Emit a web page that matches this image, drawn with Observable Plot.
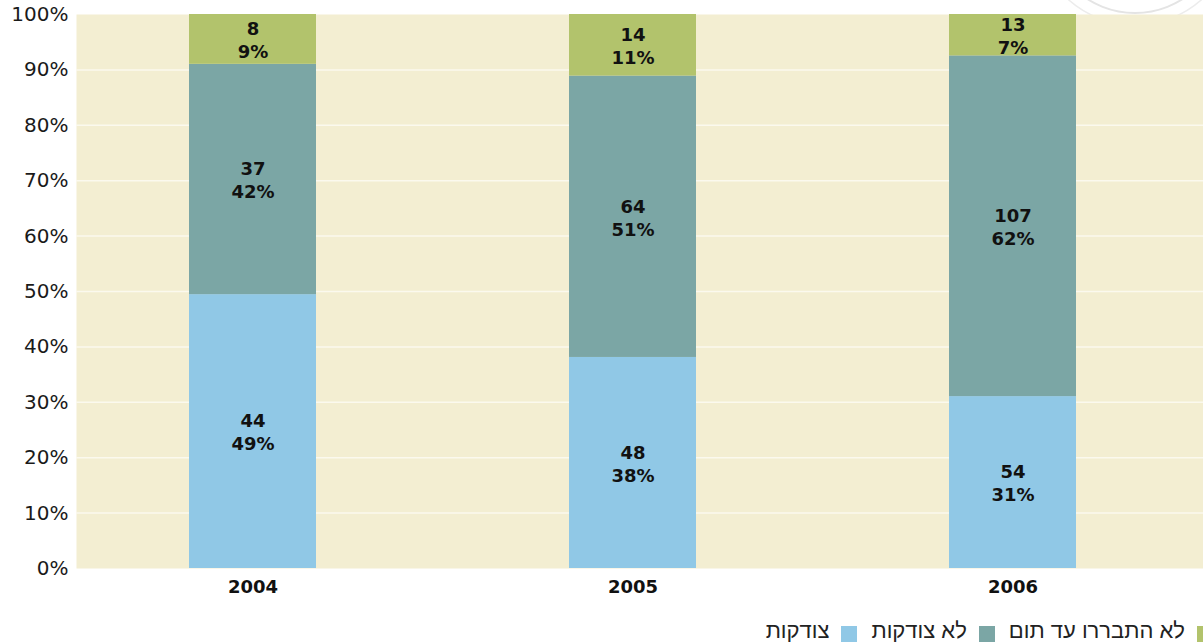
<!DOCTYPE html>
<html>
<head>
<meta charset="utf-8">
<script src="https://cdn.jsdelivr.net/npm/d3@7"></script>
<script src="https://cdn.jsdelivr.net/npm/@observablehq/plot@0.6"></script>
<style>
  html, body { margin: 0; padding: 0; background: #fff; overflow: hidden; }
  body { width: 1203px; height: 644px; position: relative; }
  #deco { position: absolute; left: 0; top: 0; z-index: 0; }
  #chart { position: relative; z-index: 1; }
  #chart svg { display: block; }
  #legend {
    position: absolute; top: 618px; right: -10px;
    display: flex; flex-direction: row; align-items: center;
    font-family: "Liberation Sans", Arial, sans-serif; font-size: 22px; color: #222;
  }
  #legend .item { display: flex; align-items: center; margin-left: 14px; direction: rtl; }
  #legend .sw { width: 16px; height: 16px; margin-left: 12px; margin-top: 6px; }
</style>
</head>
<body>
<svg id="deco" width="1203" height="20">
  <circle cx="1135" cy="-75" r="88" fill="none" stroke="#e4e4e4" stroke-width="2"></circle>
  <circle cx="1135" cy="-75" r="100" fill="none" stroke="#ececec" stroke-width="1.5"></circle>
</svg>
<div id="chart"></div>
<div id="legend"></div>
<script>
const years = ["2004", "2005", "2006"];
const series = ["צודקות", "לא צודקות", "לא התבררו עד תום"];
const colors = ["#90c8e6", "#7ba6a5", "#b2c36c"];
// counts per series (bottom to top), per year
const correct   = [44, 48, 54];
const incorrect = [37, 64, 107];
const unclear   = [8, 14, 13];
// percentages as printed on the bars
const correctPct   = [49, 38, 31];
const incorrectPct = [42, 51, 62];
const unclearPct   = [9, 11, 7];
const yTicks = [0, 0.1, 0.2, 0.3, 0.4, 0.5, 0.6, 0.7, 0.8, 0.9, 1];

const counts = [correct, incorrect, unclear];
const pcts = [correctPct, incorrectPct, unclearPct];
const data = [];
series.forEach((s, si) => {
  years.forEach((y, yi) => {
    data.push({year: y, series: s, count: counts[si][yi], pct: pcts[si][yi]});
  });
});

const stackOpts = {x: "year", y: "count", z: "series", offset: "normalize", order: series};

const chart = Plot.plot({
  width: 1203,
  height: 610,
  marginLeft: 76,
  marginRight: 0,
  marginTop: 14,
  marginBottom: 42,
  style: {background: "transparent"},
  x: {domain: years, range: [76, 1188], paddingInner: 0.6662, paddingOuter: 0.2943, label: null},
  y: {domain: [0, 1], label: null},
  color: {domain: series, range: colors},
  marks: [
    Plot.frame({fill: "#f3eed2", stroke: null}),
    Plot.gridY(yTicks.slice(1, -1), {stroke: "#fbf9ee", strokeOpacity: 1, strokeWidth: 1.5}),
    Plot.axisY(yTicks, {
      tickSize: 0, tickPadding: 8, tickFormat: d3.format(".0%"),
      fontSize: 20, fontFamily: "DejaVu Sans", fill: "#1a1a1a", label: null
    }),
    Plot.axisX({
      tickSize: 0, tickPadding: 12, fontSize: 18, fontFamily: "DejaVu Sans",
      fontWeight: "bold", fill: "#111", label: null
    }),
    Plot.barY(data, Plot.stackY({...stackOpts, fill: "series"})),
    Plot.text(data, Plot.stackY({
      ...stackOpts,
      text: d => `${d.count}\n${d.pct}%`,
      fontSize: 18, fontFamily: "DejaVu Sans", fontWeight: "bold",
      fill: "#111", lineHeight: 1.28
    }))
  ]
});
document.getElementById("chart").appendChild(chart);

const legend = document.getElementById("legend");
series.forEach((s, i) => {
  const item = document.createElement("div");
  item.className = "item";
  const sw = document.createElement("span");
  sw.className = "sw";
  sw.style.background = colors[i];
  const label = document.createElement("span");
  label.textContent = s;
  item.appendChild(sw);
  item.appendChild(label);
  legend.appendChild(item);
});
</script>
</body>
</html>
